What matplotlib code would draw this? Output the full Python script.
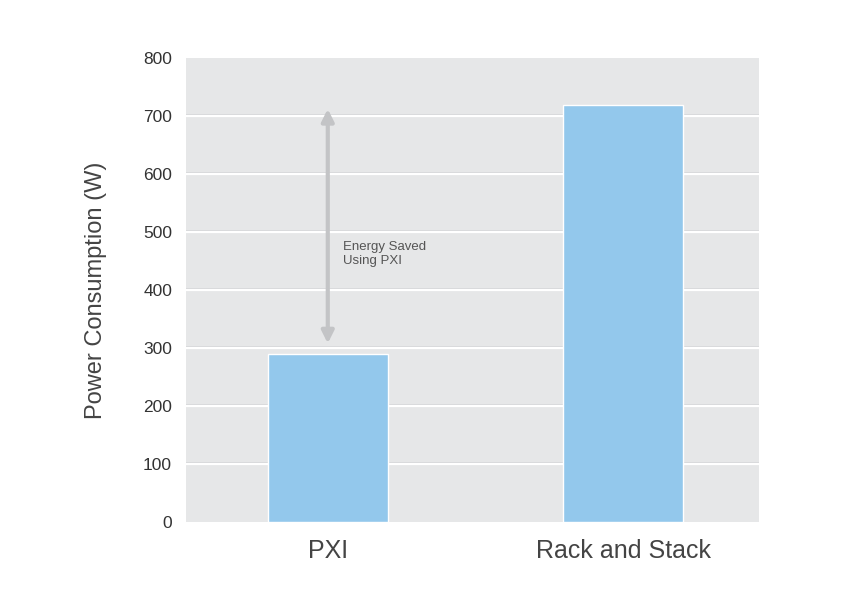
import matplotlib.pyplot as plt
from matplotlib.patches import FancyArrowPatch

categories = ["PXI", "Rack and Stack"]
power_w = [290, 719]
yticks = [0, 100, 200, 300, 400, 500, 600, 700, 800]

# arrow range for the "energy saved" note
arrow_top = power_w[1] - 2
arrow_bottom = power_w[0] + 13

plt.rcParams['font.family'] = ['Liberation Sans', 'DejaVu Sans']

fig = plt.figure(figsize=(8.5, 6.14), dpi=100)
ax = fig.add_axes([0.2188, 0.150, 0.6742, 0.7555])

ax.set_facecolor('#e6e7e8')
ax.set_xlim(-0.48, 1.46)
ax.set_ylim(0, 800)

# embossed grid: faint dark line above a white line
for y in yticks[1:-1]:
    ax.axhline(y + 1.5, color='#d2d3d5', lw=1.2, zorder=1)
    ax.axhline(y, color='white', lw=1.6, zorder=1)

x = range(len(categories))
ax.bar(x, power_w, width=0.406, color='#93c8ec', edgecolor='white',
       linewidth=1.0, zorder=3)

arrow = FancyArrowPatch((0, arrow_bottom), (0, arrow_top), arrowstyle='<|-|>',
                        mutation_scale=18, color='#c3c4c6', lw=3, zorder=2)
ax.add_patch(arrow)
ax.text(0.05, 462, "Energy Saved\nUsing PXI", fontsize=9.5, color='#555555',
        va='center', ha='left', linespacing=1.3, zorder=4)

ax.set_yticks(yticks)
ax.set_xticks(list(x))
ax.set_xticklabels(categories, fontsize=18, color='#444444')
ax.tick_params(axis='y', labelsize=12.5, labelcolor='#333333', length=0, pad=10)
ax.tick_params(axis='x', length=0, pad=12)
ax.set_ylabel("Power Consumption (W)", fontsize=17, color='#444444', labelpad=26)

for s in ax.spines.values():
    s.set_visible(False)

fig.savefig('out.png', dpi=100)
